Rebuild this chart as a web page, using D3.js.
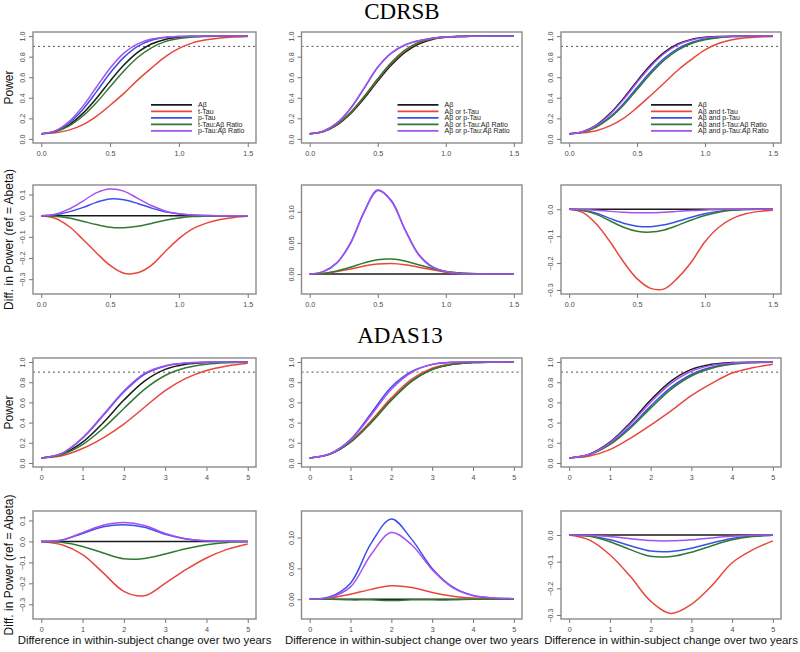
<!DOCTYPE html>
<html>
<head>
<meta charset="utf-8">
<script src="https://cdn.jsdelivr.net/npm/d3@7"></script>
<style>
  body { margin: 0; background: #fff; }
  svg { display: block; }
  .tick text { font-family: "Liberation Sans", Arial, sans-serif; font-size: 7.2px; fill: #4a4a4a; }
  .tick line { stroke: #777; }
</style>
</head>
<body>
<svg id="chart" width="800" height="652"></svg>
<script>
// ---- x grids ----
const cdrX = [0, 0.1, 0.2, 0.3, 0.4, 0.5, 0.6, 0.7, 0.8, 0.9, 1.0, 1.1, 1.2, 1.3, 1.4, 1.5];
const adasX = [0, 0.5, 1, 1.5, 2, 2.5, 3, 3.5, 4, 4.5, 5];

// ---- CDRSB power ----
const cdrAbeta   = [0.05, 0.071, 0.135, 0.246, 0.394, 0.562, 0.718, 0.842, 0.923, 0.968, 0.988, 0.996, 0.999, 1, 1, 1];
const cdrTTau1   = [0.05, 0.059, 0.085, 0.136, 0.219, 0.327, 0.443, 0.572, 0.688, 0.798, 0.880, 0.934, 0.964, 0.982, 0.992, 0.997];
const cdrPTau1   = [0.05, 0.075, 0.153, 0.284, 0.457, 0.641, 0.793, 0.900, 0.959, 0.986, 0.996, 0.999, 1, 1, 1, 1];
const cdrTRatio1 = [0.05, 0.068, 0.124, 0.220, 0.352, 0.507, 0.661, 0.792, 0.886, 0.946, 0.977, 0.992, 0.997, 0.999, 1, 1];
const cdrPRatio1 = [0.05, 0.078, 0.166, 0.314, 0.502, 0.688, 0.834, 0.924, 0.971, 0.990, 0.997, 0.999, 1, 1, 1, 1];

const cdrTTau2   = [0.05, 0.072, 0.139, 0.254, 0.407, 0.578, 0.735, 0.857, 0.934, 0.975, 0.991, 0.997, 0.999, 1, 1, 1];
const cdrPTau2   = [0.05, 0.075, 0.153, 0.296, 0.494, 0.697, 0.836, 0.914, 0.955, 0.980, 0.992, 0.997, 0.999, 1, 1, 1];
const cdrTRatio2 = [0.05, 0.072, 0.140, 0.257, 0.412, 0.585, 0.742, 0.863, 0.938, 0.977, 0.992, 0.998, 1, 1, 1, 1];
const cdrPRatio2 = [0.05, 0.075, 0.153, 0.295, 0.493, 0.696, 0.835, 0.913, 0.954, 0.979, 0.992, 0.997, 0.999, 1, 1, 1];

const cdrTTau3   = [0.05, 0.059, 0.080, 0.126, 0.199, 0.304, 0.422, 0.544, 0.668, 0.772, 0.867, 0.928, 0.964, 0.983, 0.992, 0.996];
const cdrPTau3   = [0.05, 0.067, 0.120, 0.212, 0.342, 0.499, 0.653, 0.784, 0.878, 0.938, 0.971, 0.988, 0.996, 0.999, 1, 1];
const cdrTRatio3 = [0.05, 0.066, 0.116, 0.203, 0.327, 0.480, 0.633, 0.765, 0.863, 0.928, 0.965, 0.985, 0.995, 0.999, 1, 1];
const cdrPRatio3 = [0.05, 0.070, 0.131, 0.238, 0.383, 0.549, 0.705, 0.831, 0.915, 0.963, 0.985, 0.995, 0.999, 1, 1, 1];

// ---- CDRSB difference in power (ref = Abeta) ----
const cdrZero     = [0, 0, 0, 0, 0, 0, 0, 0, 0, 0, 0, 0, 0, 0, 0, 0];
const cdrDTTau1   = [0, -0.012, -0.05, -0.11, -0.175, -0.235, -0.272, -0.27, -0.235, -0.17, -0.108, -0.062, -0.035, -0.018, -0.008, -0.003];
const cdrDPTau1   = [0, 0.004, 0.018, 0.038, 0.063, 0.079, 0.075, 0.058, 0.036, 0.018, 0.008, 0.003, 0.001, 0, 0, 0];
const cdrDTRatio1 = [0, -0.003, -0.011, -0.026, -0.042, -0.055, -0.057, -0.050, -0.037, -0.022, -0.011, -0.004, -0.002, -0.001, 0, 0];
const cdrDPRatio1 = [0, 0.007, 0.031, 0.068, 0.108, 0.126, 0.116, 0.082, 0.048, 0.022, 0.009, 0.003, 0.001, 0, 0, 0];

const cdrDTTau2   = [0, 0.001, 0.004, 0.008, 0.013, 0.016, 0.017, 0.015, 0.011, 0.007, 0.003, 0.001, 0, 0, 0, 0];
const cdrDPTau2   = [0, 0.004, 0.018, 0.050, 0.100, 0.135, 0.118, 0.072, 0.032, 0.012, 0.004, 0.001, 0, 0, 0, 0];
const cdrDTRatio2 = [0, 0.001, 0.005, 0.011, 0.018, 0.023, 0.024, 0.021, 0.015, 0.009, 0.004, 0.002, 0.001, 0, 0, 0];
const cdrDPRatio2 = [0, 0.004, 0.018, 0.049, 0.099, 0.134, 0.117, 0.071, 0.031, 0.011, 0.004, 0.001, 0, 0, 0, 0];

const cdrDTTau3   = [0, -0.012, -0.055, -0.120, -0.195, -0.258, -0.294, -0.296, -0.255, -0.196, -0.121, -0.068, -0.035, -0.017, -0.008, -0.004];
const cdrDPTau3   = [0, -0.004, -0.015, -0.034, -0.052, -0.063, -0.065, -0.058, -0.045, -0.030, -0.017, -0.008, -0.003, -0.001, 0, 0];
const cdrDTRatio3 = [0, -0.005, -0.019, -0.043, -0.067, -0.082, -0.085, -0.077, -0.060, -0.040, -0.023, -0.011, -0.004, -0.001, 0, 0];
const cdrDPRatio3 = [0, -0.001, -0.004, -0.008, -0.011, -0.013, -0.013, -0.011, -0.008, -0.005, -0.003, -0.001, 0, 0, 0, 0];

// ---- ADAS13 power ----
const adasAbeta   = [0.05, 0.088, 0.206, 0.399, 0.623, 0.811, 0.927, 0.978, 0.995, 0.999, 1];
const adasTTau1   = [0.05, 0.072, 0.143, 0.249, 0.385, 0.552, 0.717, 0.838, 0.916, 0.961, 0.988];
const adasPTau1   = [0.05, 0.094, 0.246, 0.470, 0.703, 0.879, 0.959, 0.989, 0.998, 1, 1];
const adasTRatio1 = [0.05, 0.084, 0.182, 0.344, 0.540, 0.730, 0.867, 0.943, 0.979, 0.994, 0.999];
const adasPRatio1 = [0.05, 0.095, 0.250, 0.477, 0.713, 0.887, 0.964, 0.990, 0.998, 1, 1];

const adasTTau2   = [0.05, 0.090, 0.214, 0.415, 0.645, 0.830, 0.938, 0.983, 0.997, 1, 1];
const adasPTau2   = [0.05, 0.092, 0.232, 0.489, 0.753, 0.908, 0.977, 0.998, 1, 1, 1];
const adasTRatio2 = [0.05, 0.088, 0.205, 0.398, 0.621, 0.810, 0.926, 0.977, 0.995, 0.999, 1];
const adasPRatio2 = [0.05, 0.091, 0.226, 0.471, 0.731, 0.899, 0.975, 0.997, 1, 1, 1];

const adasTTau3   = [0.05, 0.069, 0.132, 0.244, 0.375, 0.517, 0.667, 0.788, 0.891, 0.943, 0.978];
const adasPTau3   = [0.05, 0.084, 0.188, 0.359, 0.563, 0.749, 0.877, 0.948, 0.982, 0.995, 0.999];
const adasTRatio3 = [0.05, 0.083, 0.181, 0.344, 0.543, 0.730, 0.862, 0.938, 0.977, 0.993, 0.999];
const adasPRatio3 = [0.05, 0.087, 0.200, 0.385, 0.602, 0.789, 0.909, 0.967, 0.990, 0.998, 1];

// ---- ADAS13 difference in power ----
const adasZero     = [0, 0, 0, 0, 0, 0, 0, 0, 0, 0, 0];
const adasDTTau1   = [0, -0.016, -0.063, -0.150, -0.238, -0.259, -0.200, -0.135, -0.079, -0.038, -0.012];
const adasDPTau1   = [0, 0.006, 0.038, 0.070, 0.080, 0.068, 0.034, 0.012, 0.003, 0.001, 0];
const adasDTRatio1 = [0, -0.004, -0.024, -0.055, -0.083, -0.081, -0.060, -0.035, -0.016, -0.005, -0.001];
const adasDPRatio1 = [0, 0.007, 0.042, 0.077, 0.090, 0.076, 0.038, 0.013, 0.003, 0.001, 0];

const adasDTTau2   = [0, 0.002, 0.008, 0.016, 0.022, 0.019, 0.011, 0.005, 0.002, 0.001, 0];
const adasDPTau2   = [0, 0.004, 0.026, 0.090, 0.130, 0.097, 0.050, 0.020, 0.006, 0.002, 0.001];
const adasDTRatio2 = [0, 0, -0.001, -0.001, -0.002, -0.001, -0.001, -0.001, 0, 0, 0];
const adasDPRatio2 = [0, 0.003, 0.020, 0.072, 0.108, 0.088, 0.048, 0.019, 0.006, 0.002, 0.001];

const adasDTTau3   = [0, -0.019, -0.074, -0.155, -0.248, -0.294, -0.260, -0.190, -0.104, -0.056, -0.022];
const adasDPTau3   = [0, -0.004, -0.018, -0.040, -0.060, -0.062, -0.050, -0.030, -0.013, -0.004, -0.001];
const adasDTRatio3 = [0, -0.005, -0.025, -0.055, -0.080, -0.081, -0.065, -0.040, -0.018, -0.006, -0.001];
const adasDPRatio3 = [0, -0.001, -0.006, -0.014, -0.021, -0.022, -0.018, -0.011, -0.005, -0.001, 0];

// ---- tick labels / legend ----
const cdrTicks = [0, 0.5, 1.0, 1.5];
const adasTicks = [0, 1, 2, 3, 4, 5];
const powerTicks = [0, 0.2, 0.4, 0.6, 0.8, 1.0];
const diffTicks = [[-0.3, -0.2, -0.1, 0, 0.1], [0, 0.05, 0.10], [-0.3, -0.2, -0.1, 0]];
const legendLabels = [
  ['Aβ', 't-Tau', 'p-Tau', 't-Tau:Aβ Ratio', 'p-Tau:Aβ Ratio'],
  ['Aβ', 'Aβ or t-Tau', 'Aβ or p-Tau', 'Aβ or t-Tau:Aβ Ratio', 'Aβ or p-Tau:Aβ Ratio'],
  ['Aβ', 'Aβ and t-Tau', 'Aβ and p-Tau', 'Aβ and t-Tau:Aβ Ratio', 'Aβ and p-Tau:Aβ Ratio']
];
const colors = ['#1a1a1a', '#e8473b', '#3b50e6', '#2f7a30', '#a650f0'];

// ---- layout ----
const colX = [[33, 256], [301.5, 522], [561, 781]];
const rowY = [[32, 143], [185, 294], [358, 467], [511, 619]];
const legendX = [118, 96, 90];   // line start relative to box left
const diffDomains = [[-0.37, 0.145], [-0.032, 0.143], [-0.315, 0.09]];

const panels = [];
const cdrPower = [
  [cdrAbeta, cdrTTau1, cdrPTau1, cdrTRatio1, cdrPRatio1],
  [cdrAbeta, cdrTTau2, cdrPTau2, cdrTRatio2, cdrPRatio2],
  [cdrAbeta, cdrTTau3, cdrPTau3, cdrTRatio3, cdrPRatio3]
];
const cdrDiff = [
  [cdrZero, cdrDTTau1, cdrDPTau1, cdrDTRatio1, cdrDPRatio1],
  [cdrZero, cdrDTTau2, cdrDPTau2, cdrDTRatio2, cdrDPRatio2],
  [cdrZero, cdrDTTau3, cdrDPTau3, cdrDTRatio3, cdrDPRatio3]
];
const adasPower = [
  [adasAbeta, adasTTau1, adasPTau1, adasTRatio1, adasPRatio1],
  [adasAbeta, adasTTau2, adasPTau2, adasTRatio2, adasPRatio2],
  [adasAbeta, adasTTau3, adasPTau3, adasTRatio3, adasPRatio3]
];
const adasDiff = [
  [adasZero, adasDTTau1, adasDPTau1, adasDTRatio1, adasDPRatio1],
  [adasZero, adasDTTau2, adasDPTau2, adasDTRatio2, adasDPRatio2],
  [adasZero, adasDTTau3, adasDPTau3, adasDTRatio3, adasDPRatio3]
];

for (let c = 0; c < 3; c++) {
  panels.push({ row: 0, col: c, xs: cdrX, xDom: [-0.06, 1.56], xTicks: cdrTicks, xFmt: d3.format('.1f'),
    yDom: [-0.04, 1.04], yTicks: powerTicks, yFmt: d3.format('.1f'), series: cdrPower[c], power: true, legend: true });
  panels.push({ row: 1, col: c, xs: cdrX, xDom: [-0.06, 1.56], xTicks: cdrTicks, xFmt: d3.format('.1f'),
    yDom: diffDomains[c], yTicks: diffTicks[c], yFmt: d3.format(c === 1 ? '.2f' : '.1f'), series: cdrDiff[c] });
  panels.push({ row: 2, col: c, xs: adasX, xDom: [-0.2, 5.2], xTicks: adasTicks, xFmt: d3.format('d'),
    yDom: [-0.04, 1.04], yTicks: powerTicks, yFmt: d3.format('.1f'), series: adasPower[c], power: true });
  panels.push({ row: 3, col: c, xs: adasX, xDom: [-0.2, 5.2], xTicks: adasTicks, xFmt: d3.format('d'),
    yDom: diffDomains[c], yTicks: diffTicks[c], yFmt: d3.format(c === 1 ? '.2f' : '.1f'), series: adasDiff[c] });
}

const svg = d3.select('#chart');
const sans = '"Liberation Sans", Arial, sans-serif';

panels.forEach(p => {
  const [x0, x1] = colX[p.col];
  const [y0, y1] = rowY[p.row];
  const x = d3.scaleLinear().domain(p.xDom).range([x0, x1]);
  const y = d3.scaleLinear().domain(p.yDom).range([y1, y0]);
  const g = svg.append('g');

  // 0.9 reference line
  if (p.power) {
    g.append('line')
      .attr('x1', x0).attr('x2', x1)
      .attr('y1', y(0.9)).attr('y2', y(0.9))
      .attr('stroke', '#555').attr('stroke-width', 1)
      .attr('stroke-dasharray', '2,3');
  }

  // curves
  const line = d3.line()
    .x((d, i) => x(p.xs[i]))
    .y(d => y(d))
    .curve(d3.curveCatmullRom.alpha(0.5));
  g.selectAll('path.curve')
    .data(p.series)
    .enter()
    .append('path')
    .attr('class', 'curve')
    .attr('d', d => line(d))
    .attr('fill', 'none')
    .attr('stroke', (d, i) => colors[i])
    .attr('stroke-width', 1.5);

  // box
  g.append('rect')
    .attr('x', x0).attr('y', y0)
    .attr('width', x1 - x0).attr('height', y1 - y0)
    .attr('fill', 'none').attr('stroke', '#8a8a8a').attr('stroke-width', 1.4);

  // x axis
  const xa = g.append('g')
    .attr('transform', `translate(0,${y1})`)
    .call(d3.axisBottom(x).tickValues(p.xTicks).tickFormat(p.xFmt).tickSize(4).tickPadding(4));
  xa.select('.domain').remove();

  // y axis, R style rotated labels
  const ya = g.append('g')
    .attr('transform', `translate(${x0},0)`)
    .call(d3.axisLeft(y).tickValues(p.yTicks).tickFormat(p.yFmt).tickSize(4));
  ya.select('.domain').remove();
  ya.selectAll('.tick text')
    .attr('x', 0).attr('dy', 0)
    .attr('text-anchor', 'middle')
    .attr('transform', 'translate(-8,0) rotate(-90)');

  // legend
  if (p.legend) {
    const lx = x0 + legendX[p.col];
    const lg = g.append('g');
    legendLabels[p.col].forEach((lab, i) => {
      const ly = 104.8 + i * 6.5;
      lg.append('line')
        .attr('x1', lx).attr('x2', lx + 41)
        .attr('y1', ly).attr('y2', ly)
        .attr('stroke', colors[i]).attr('stroke-width', 1.8);
      lg.append('text')
        .attr('x', lx + 47).attr('y', ly + 2.5)
        .attr('font-family', sans).attr('font-size', '7px')
        .attr('fill', '#222')
        .text(lab);
    });
  }
});

// section titles
svg.append('text')
  .attr('x', 402).attr('y', 19)
  .attr('text-anchor', 'middle')
  .attr('font-family', '"Liberation Serif", "Times New Roman", serif')
  .attr('font-size', '23px')
  .text('CDRSB');
svg.append('text')
  .attr('x', 400).attr('y', 343)
  .attr('text-anchor', 'middle')
  .attr('font-family', '"Liberation Serif", "Times New Roman", serif')
  .attr('font-size', '23px')
  .text('ADAS13');

// y axis titles
const yTitles = ['Power', 'Diff. in Power (ref = Abeta)', 'Power', 'Diff. in Power (ref = Abeta)'];
yTitles.forEach((t, r) => {
  const cy = (rowY[r][0] + rowY[r][1]) / 2;
  svg.append('text')
    .attr('transform', `translate(13,${cy}) rotate(-90)`)
    .attr('text-anchor', 'middle')
    .attr('font-family', sans)
    .attr('font-size', '12px')
    .attr('fill', '#111')
    .text(t);
});

// x axis titles
colX.forEach(([a, b]) => {
  svg.append('text')
    .attr('x', (a + b) / 2).attr('y', 644)
    .attr('text-anchor', 'middle')
    .attr('font-family', sans)
    .attr('font-size', '11.4px')
    .attr('fill', '#111')
    .text('Difference in within-subject change over two years');
});
</script>
</body>
</html>
